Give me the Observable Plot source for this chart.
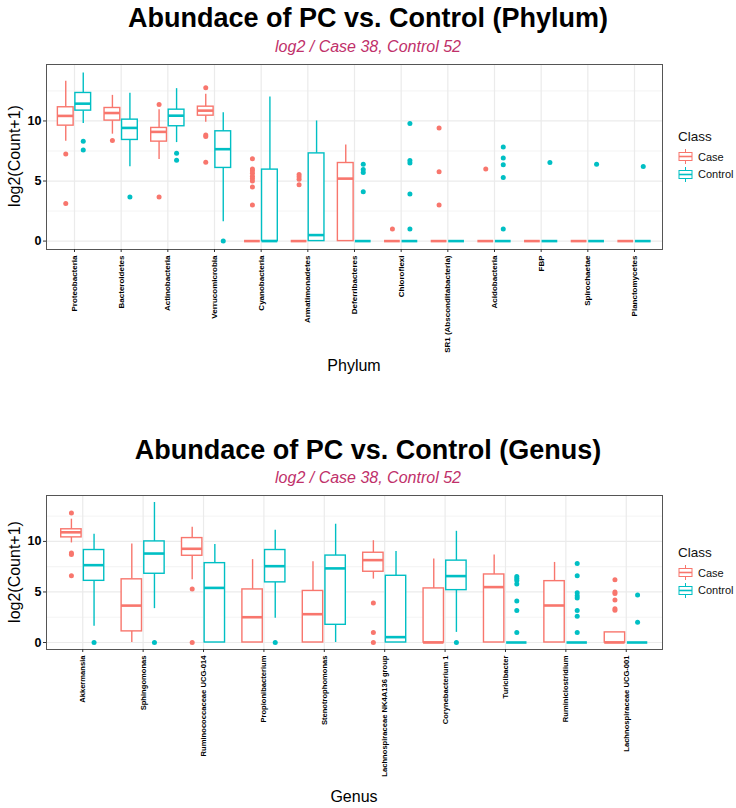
<!DOCTYPE html>
<html><head><meta charset="utf-8">
<script src="https://cdn.jsdelivr.net/npm/d3@7"></script>
<script src="https://cdn.jsdelivr.net/npm/@observablehq/plot@0.6"></script>
<style>
body{margin:0;background:#fff;font-family:"Liberation Sans",Arial,Helvetica,sans-serif;}
#page{position:relative;width:736px;height:808px;overflow:hidden;background:#fff;}
.t{position:absolute;left:0;width:736px;text-align:center;font-weight:bold;font-size:27px;line-height:28px;color:#000;}
.s{position:absolute;left:0;width:736px;text-align:center;font-style:italic;font-size:16px;line-height:17px;color:#c0306a;}
.yt{position:absolute;width:200px;text-align:center;font-size:16px;line-height:18px;transform:rotate(-90deg);white-space:nowrap;color:#000;}
.xt{position:absolute;left:254px;width:200px;text-align:center;font-size:16px;line-height:18px;color:#000;}
.plot{position:absolute;left:0;}
.leg{position:absolute;left:678px;width:58px;font-size:11px;color:#111;white-space:nowrap;}
.leg .lt{font-size:13.5px;line-height:15px;margin-bottom:4px;}
.leg .row{display:flex;align-items:center;height:17.5px;}
.leg .row svg{margin-right:5px;flex:none;}
svg text{fill:#000;}
</style>
</head><body>
<div id="page"></div>
<script>
// ---------- Phylum panel data ----------
const phyla = ["Proteobacteria","Bacteroidetes","Actinobacteria","Verrucomicrobia","Cyanobacteria","Armatimonadetes","Deferribacteres","Chloroflexi","SR1 (Absconditabacteria)","Acidobacteria","FBP","Spirochaetae","Planctomycetes"];
const phyCaseLo  = [8.31, 8.9, 6.79, 9.89, 0, 0, 0, 0, 0, 0, 0, 0, 0];
const phyCaseQ1  = [9.61, 10.03, 8.28, 10.44, 0, 0, 0, 0, 0, 0, 0, 0, 0];
const phyCaseMed = [10.42, 10.66, 9.09, 10.86, 0, 0, 5.2, 0, 0, 0, 0, 0, 0];
const phyCaseQ3  = [11.14, 11.08, 9.42, 11.19, 0, 0, 6.5, 0, 0, 0, 0, 0, 0];
const phyCaseHi  = [13.3, 12.13, 10.94, 12.22, 0, 0, 8.0, 0, 0, 0, 0, 0, 0];
const phyCaseOut = [[7.26,3.13],[8.37],[11.36,3.68],[12.77,8.84,8.7,6.57],[6.85,6.0,5.85,5.65,5.4,5.2,5.0,4.5,3.0],[5.55,5.35,5.15,4.7],[],[1.0],[9.42,5.78,3.0],[6.0],[],[],[]];
const phyCtrlLo  = [9.78, 6.18, 8.2, 1.6, 0, 0, 0, 0, 0, 0, 0, 0, 0];
const phyCtrlQ1  = [10.86, 8.42, 9.56, 6.09, 0, 0, 0, 0, 0, 0, 0, 0, 0];
const phyCtrlMed = [11.44, 9.42, 10.44, 7.65, 0, 0.5, 0, 0, 0, 0, 0, 0, 0];
const phyCtrlQ3  = [12.33, 10.11, 10.94, 9.14, 5.95, 7.3, 0, 0, 0, 0, 0, 0, 0];
const phyCtrlHi  = [14.0, 12.3, 12.69, 10.69, 12.0, 10.0, 0, 0, 0, 0, 0, 0, 0];
const phyCtrlOut = [[8.31,7.59],[3.68],[7.31,6.73],[0],[],[],[6.4,5.95,5.7,4.1],[9.78,6.7,6.5,3.92,1.0],[],[7.83,6.92,6.36,5.3,1.0],[6.55],[6.4],[6.2]];

// ---------- Genus panel data ----------
const genera = ["Akkermansia","Sphingomonas","Ruminococcaceae UCG-014","Propionibacterium","Stenotrophomonas","Lachnospiraceae NK4A136 group","Corynebacterium 1","Turicibacter","Ruminiclostridium","Lachnospiraceae UCG-001"];
const genCaseLo  = [9.85, 0, 6.2, 0, 0, 6.27, 0, 0, 0, 0];
const genCaseQ1  = [10.4, 1.1, 8.58, 0, 0, 7.0, 0, 0, 0, 0];
const genCaseMed = [10.9, 3.65, 9.27, 2.5, 2.8, 8.15, 0, 5.48, 3.66, 0];
const genCaseQ3  = [11.2, 6.25, 10.33, 5.25, 5.1, 8.88, 5.35, 6.73, 6.07, 1.0];
const genCaseHi  = [12.2, 9.75, 11.4, 8.2, 8.0, 10.07, 8.25, 8.65, 7.92, 1.0];
const genCaseOut = [[12.8,8.85,8.7,6.6],[],[5.3,0],[],[],[3.9,1.0,0],[],[],[],[6.2,5.0,4.85,4.2,3.35,3.2]];
const genCtrlLo  = [1.6, 3.35, 0, 2.4, 0, 0, 1.0, 0, 0, 0];
const genCtrlQ1  = [6.1, 6.8, 0, 5.95, 1.75, 0, 5.18, 0, 0, 0];
const genCtrlMed = [7.65, 8.8, 5.4, 7.55, 7.33, 0.53, 6.57, 0, 0, 0];
const genCtrlQ3  = [9.15, 10.0, 7.85, 9.15, 8.6, 6.6, 8.1, 0, 0, 0];
const genCtrlHi  = [10.7, 13.85, 9.7, 11.1, 11.7, 9.0, 11.0, 0, 0, 0];
const genCtrlOut = [[0],[0],[],[0],[],[],[0],[6.53,6.34,6.14,5.78,4.1,3.17,1.0],[7.82,6.6,4.92,4.62,4.39,3.17,2.6,1.0],[4.7,2.0]];

const classes = ["Case","Control"];
const classColors = ["#F8766D","#00BFC4"];
const titleText = "Abundace of PC vs. Control";
const subtitleText = "log2 / Case 38, Control 52";
const yTitle = "log2(Count+1)";
const yTicks = [0,5,10];
const yMinor = [2.5,7.5,12.5];

const DODGE = 0.1875, HALF = 0.16875;

function boxes(names, cls, lo, q1, med, q3, hi, off) {
  return names.map((n, i) => ({cls, x: i + off, xl: i + off - HALF, xr: i + off + HALF,
    lo: lo[i], q1: q1[i], med: med[i], q3: q3[i], hi: hi[i]}));
}
function outs(arrs, cls, off) {
  return arrs.flatMap((a, i) => a.map(v => ({cls, x: i + off, y: v})));
}

function panel(names, caseArr, ctrlArr, caseOut, ctrlOut, innerH, mBottom, labelSize) {
  const data = [...boxes(names, "Case", ...caseArr, -DODGE), ...boxes(names, "Control", ...ctrlArr, DODGE)];
  const pts = [...outs(caseOut, "Case", -DODGE), ...outs(ctrlOut, "Control", DODGE)];
  const vmax = d3.max([...data.map(d => d.hi), ...pts.map(d => d.y)]);
  const vmin = 0;
  const pad = (vmax - vmin) * 0.05;
  const n = names.length;
  const idx = d3.range(n);
  return Plot.plot({
    width: 736, height: 8 + innerH + mBottom,
    marginTop: 8, marginLeft: 46, marginRight: 74, marginBottom: mBottom,
    style: {fontFamily: "'Liberation Sans', Arial, sans-serif", color: "#000", background: "white", overflow: "visible"},
    x: {domain: [-0.6, n - 0.4], axis: null},
    y: {domain: [vmin - pad, vmax + pad], axis: null},
    color: {domain: classes, range: classColors},
    marks: [
      Plot.gridY({ticks: yMinor, stroke: "#EBEBEB", strokeOpacity: 1, strokeWidth: 0.6}),
      Plot.gridY({ticks: yTicks, stroke: "#EBEBEB", strokeOpacity: 1, strokeWidth: 1.2}),
      Plot.gridX({ticks: idx, stroke: "#EBEBEB", strokeOpacity: 1, strokeWidth: 1.2}),
      Plot.ruleX(data, {x: "x", y1: "lo", y2: "q1", stroke: "cls", strokeWidth: 1.4}),
      Plot.ruleX(data, {x: "x", y1: "q3", y2: "hi", stroke: "cls", strokeWidth: 1.4}),
      Plot.rect(data, {x1: "xl", x2: "xr", y1: "q1", y2: "q3", fill: "white", stroke: "cls", strokeWidth: 1.4}),
      Plot.ruleY(data, {y: "med", x1: "xl", x2: "xr", stroke: "cls", strokeWidth: 2.6}),
      Plot.dot(pts, {x: "x", y: "y", r: 2.5, fill: "cls", stroke: "none"}),
      Plot.frame({stroke: "#555", strokeWidth: 1}),
      Plot.axisY({ticks: yTicks, tickSize: 3, tickPadding: 2, label: null, fontSize: 12.5, fontWeight: "bold", stroke: "#333"}),
      Plot.axisX({ticks: idx, tickFormat: i => names[i], tickRotate: -90, tickSize: 3, tickPadding: 3, label: null, fontSize: labelSize, fontWeight: "bold", stroke: "#333"})
    ]
  });
}

function legendHTML(top) {
  const key = c => `<svg width="15" height="17"><line x1="7.5" x2="7.5" y1="1" y2="4.5" stroke="${c}" stroke-width="1"/><line x1="7.5" x2="7.5" y1="12.5" y2="16" stroke="${c}" stroke-width="1"/><rect x="1" y="4.5" width="13" height="8" fill="white" stroke="${c}" stroke-width="1"/><line x1="1" x2="14" y1="8.5" y2="8.5" stroke="${c}" stroke-width="1.6"/></svg>`;
  return `<div class="leg" style="top:${top}px"><div class="lt">Class</div>` +
    classes.map((c, i) => `<div class="row">${key(classColors[i])}<span>${c}</span></div>`).join("") + `</div>`;
}

const page = document.getElementById("page");
function add(html) { page.insertAdjacentHTML("beforeend", html); }

// Panel 1
add(`<div class="t" style="top:4px">${titleText} (Phylum)</div>`);
add(`<div class="s" style="top:38px">${subtitleText}</div>`);
const p1 = panel(phyla, [phyCaseLo, phyCaseQ1, phyCaseMed, phyCaseQ3, phyCaseHi], [phyCtrlLo, phyCtrlQ1, phyCtrlMed, phyCtrlQ3, phyCtrlHi], phyCaseOut, phyCtrlOut, 185, 100, 8);
p1.classList.add("plot"); p1.style.top = "56px"; page.appendChild(p1);
add(`<div class="yt" style="left:-85px;top:147px">${yTitle}</div>`);
add(`<div class="xt" style="top:357px">Phylum</div>`);
add(legendHTML(129));

// Panel 2
add(`<div class="t" style="top:436px">${titleText} (Genus)</div>`);
add(`<div class="s" style="top:469px">${subtitleText}</div>`);
const p2 = panel(genera, [genCaseLo, genCaseQ1, genCaseMed, genCaseQ3, genCaseHi], [genCtrlLo, genCtrlQ1, genCtrlMed, genCtrlQ3, genCtrlHi], genCaseOut, genCtrlOut, 154, 130, 7.6);
p2.classList.add("plot"); p2.style.top = "487px"; page.appendChild(p2);
add(`<div class="yt" style="left:-85px;top:563px">${yTitle}</div>`);
add(`<div class="xt" style="top:788px">Genus</div>`);
add(legendHTML(545));
</script>
</body></html>
